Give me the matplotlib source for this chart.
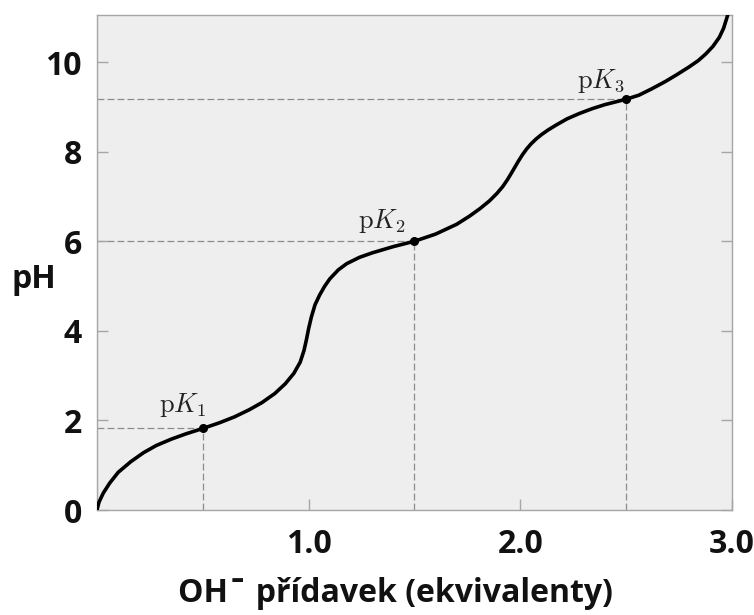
import matplotlib
matplotlib.use("Agg")
from matplotlib import pyplot as plt
import numpy as np

# titration curve
oh_added = [0.0, 0.01, 0.03, 0.06, 0.10, 0.16, 0.22, 0.28, 0.35, 0.42, 0.50, 0.58, 0.65,
            0.72, 0.78, 0.84, 0.89, 0.93, 0.96, 0.978, 0.989, 1.0, 1.013, 1.03, 1.052,
            1.075, 1.10, 1.14, 1.18, 1.24, 1.30, 1.40, 1.50, 1.60, 1.70, 1.76, 1.81,
            1.854, 1.89, 1.917, 1.94, 1.964, 1.99, 2.01, 2.03, 2.05, 2.074, 2.10, 2.13,
            2.168, 2.22, 2.278, 2.34, 2.40, 2.45, 2.50, 2.56, 2.62, 2.687, 2.74, 2.797,
            2.84, 2.876, 2.91, 2.94, 2.96, 2.972, 2.98]
ph = [0.0, 0.18, 0.38, 0.60, 0.84, 1.08, 1.28, 1.44, 1.58, 1.70, 1.82, 1.95, 2.08,
      2.24, 2.40, 2.60, 2.82, 3.05, 3.30, 3.56, 3.79, 4.05, 4.31, 4.58, 4.80,
      4.99, 5.16, 5.36, 5.50, 5.64, 5.74, 5.88, 6.0, 6.16, 6.38, 6.56, 6.73,
      6.90, 7.07, 7.22, 7.38, 7.57, 7.78, 7.93, 8.06, 8.17, 8.28, 8.38, 8.48,
      8.59, 8.73, 8.85, 8.96, 9.05, 9.11, 9.17, 9.26, 9.40, 9.57, 9.72, 9.89,
      10.03, 10.18, 10.35, 10.55, 10.75, 10.93, 11.05]

pk_x = [0.5, 1.5, 2.5]
pk_y = [1.82, 6.0, 9.17]
pk_labels = [r"$\mathrm{p}K_1$", r"$\mathrm{p}K_2$", r"$\mathrm{p}K_3$"]
label_x = [0.405, 1.345, 2.38]
label_y = [2.19, 6.29, 9.42]

xticks = [1.0, 2.0, 3.0]
xtick_labels = ["1.0", "2.0", "3.0"]
yticks = [0, 2, 4, 6, 8, 10]

plt.rcParams["mathtext.fontset"] = "cm"

fig = plt.figure(figsize=(7.54, 6.15), dpi=100)
ax = fig.add_axes([0.1286, 0.1707, 0.8422, 0.8049])
ax.set_facecolor("#eeeeee")

dash_kw = dict(color="#8c8c8c", lw=0.9, dashes=(5.5, 2.5), zorder=1)
for x, y in zip(pk_x, pk_y):
    ax.plot([0, x], [y, y], **dash_kw)
    ax.plot([x, x], [0, y], **dash_kw)

ax.plot(oh_added, ph, color="black", lw=2.6, solid_joinstyle="round",
        solid_capstyle="round", zorder=3)
ax.plot(pk_x, pk_y, "o", color="black", markersize=5.5, zorder=4)

for lx, ly, txt in zip(label_x, label_y, pk_labels):
    ax.text(lx, ly, txt, fontsize=19, ha="center", va="baseline", color="#222222")

ax.set_xlim(0, 3.0)
ax.set_ylim(0, 11.05)
ax.set_xticks(xticks)
ax.set_xticklabels(xtick_labels)
ax.set_yticks(yticks)

for side in ["left", "right", "top", "bottom"]:
    ax.spines[side].set_color("#a6a6a6")
    ax.spines[side].set_linewidth(1.0)

ax.tick_params(axis="both", direction="in", color="#a6a6a6", width=1.0,
               labelsize=23, labelcolor="#111111")
ax.tick_params(axis="y", length=8, pad=11, right=True)
ax.tick_params(axis="x", length=8, pad=13)
for lab in ax.get_xticklabels() + ax.get_yticklabels():
    lab.set_fontfamily("Open Sans")
    lab.set_fontweight("bold")

ax.set_xlabel("OH\u02c9 přídavek (ekvivalenty)", fontfamily=["Open Sans", "DejaVu Sans"],
              fontweight="bold", fontsize=23, color="#111111", va="top")
ax.xaxis.set_label_coords(0.47, -0.135)
ax.set_ylabel("pH", fontfamily="Open Sans", fontweight="bold", fontsize=23,
              color="#111111", rotation=0, ha="left", va="center")
ax.yaxis.set_label_coords(-0.134, 0.465)

fig.savefig("out.png", dpi=100)
